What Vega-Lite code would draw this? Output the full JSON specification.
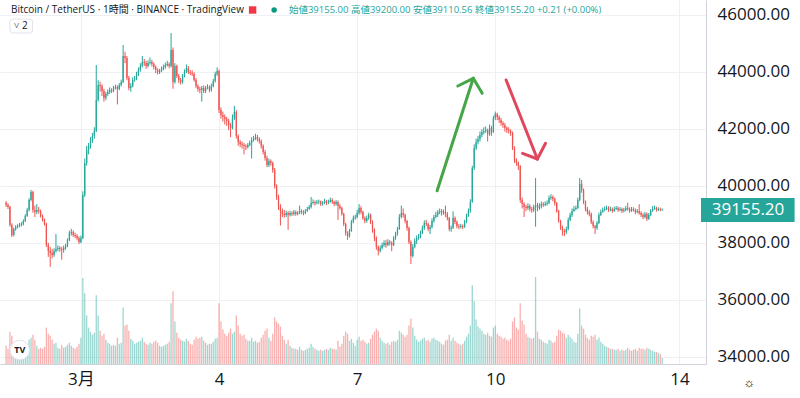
{
"$schema":"https://vega.github.io/schema/vega-lite/v6.json",
"width":706,"height":364,
"autosize":{"type":"none"},
"padding":{"left":0,"top":0,"right":94,"bottom":34},
"background":"#ffffff",
"config":{"view":{"stroke":null},"font":"Open Sans, Noto Sans CJK JP"},
"datasets":{
"candles":[
{"t":"2022-02-27T09:00","o":39400,"h":39460,"l":39250,"c":39321,"v":1800},
{"t":"2022-02-27T10:00","o":39321,"h":39380,"l":39180,"c":39251,"v":1500},
{"t":"2022-02-27T11:00","o":39251,"h":39290,"l":38560,"c":38620,"v":3200},
{"t":"2022-02-27T12:00","o":38620,"h":38680,"l":38200,"c":38268,"v":2800},
{"t":"2022-02-27T13:00","o":38268,"h":38530,"l":38220,"c":38479,"v":1900},
{"t":"2022-02-27T14:00","o":38479,"h":38610,"l":38420,"c":38549,"v":1400},
{"t":"2022-02-27T15:00","o":38549,"h":38650,"l":38500,"c":38584,"v":1300},
{"t":"2022-02-27T16:00","o":38584,"h":38690,"l":38540,"c":38620,"v":1200},
{"t":"2022-02-27T17:00","o":38620,"h":38720,"l":38570,"c":38655,"v":1300},
{"t":"2022-02-27T18:00","o":38655,"h":38820,"l":38600,"c":38760,"v":1500},
{"t":"2022-02-27T19:00","o":38760,"h":39000,"l":38720,"c":38935,"v":1700},
{"t":"2022-02-27T20:00","o":38935,"h":39220,"l":38900,"c":39146,"v":2000},
{"t":"2022-02-27T21:00","o":39146,"h":39560,"l":39100,"c":39497,"v":2400},
{"t":"2022-02-27T22:00","o":39497,"h":39850,"l":39450,"c":39778,"v":2600},
{"t":"2022-02-27T23:00","o":39778,"h":39820,"l":39050,"c":39146,"v":2900},
{"t":"2022-02-28T00:00","o":39146,"h":39300,"l":38900,"c":39076,"v":2400},
{"t":"2022-02-28T01:00","o":39076,"h":39350,"l":39000,"c":39146,"v":1800},
{"t":"2022-02-28T02:00","o":39146,"h":39250,"l":39020,"c":39111,"v":1500},
{"t":"2022-02-28T03:00","o":39111,"h":39160,"l":38880,"c":38935,"v":1600},
{"t":"2022-02-28T04:00","o":38935,"h":38990,"l":38740,"c":38795,"v":1500},
{"t":"2022-02-28T05:00","o":38795,"h":38850,"l":38600,"c":38655,"v":1700},
{"t":"2022-02-28T06:00","o":38655,"h":38700,"l":37850,"c":37918,"v":3600},
{"t":"2022-02-28T07:00","o":37918,"h":37990,"l":37500,"c":37707,"v":3000},
{"t":"2022-02-28T08:00","o":37707,"h":37850,"l":37150,"c":37637,"v":2800},
{"t":"2022-02-28T09:00","o":37637,"h":37780,"l":37450,"c":37567,"v":2400},
{"t":"2022-02-28T10:00","o":37567,"h":37800,"l":37500,"c":37707,"v":2000},
{"t":"2022-02-28T11:00","o":37707,"h":38300,"l":37650,"c":37777,"v":2100},
{"t":"2022-02-28T12:00","o":37777,"h":37900,"l":37700,"c":37812,"v":1600},
{"t":"2022-02-28T13:00","o":37812,"h":37880,"l":37680,"c":37777,"v":1500},
{"t":"2022-02-28T14:00","o":37777,"h":37850,"l":37400,"c":37742,"v":1900},
{"t":"2022-02-28T15:00","o":37742,"h":37900,"l":37650,"c":37812,"v":1600},
{"t":"2022-02-28T16:00","o":37812,"h":37960,"l":37750,"c":37882,"v":1700},
{"t":"2022-02-28T17:00","o":37882,"h":38150,"l":37840,"c":38093,"v":1900},
{"t":"2022-02-28T18:00","o":38093,"h":38420,"l":38050,"c":38338,"v":2100},
{"t":"2022-02-28T19:00","o":38338,"h":38480,"l":38250,"c":38374,"v":1800},
{"t":"2022-02-28T20:00","o":38374,"h":38430,"l":38200,"c":38268,"v":1600},
{"t":"2022-02-28T21:00","o":38268,"h":38350,"l":38150,"c":38233,"v":1500},
{"t":"2022-02-28T22:00","o":38233,"h":38300,"l":38080,"c":38163,"v":1700},
{"t":"2022-02-28T23:00","o":38163,"h":38220,"l":37950,"c":38023,"v":2000},
{"t":"2022-03-01T00:00","o":38023,"h":38250,"l":37980,"c":38150,"v":2600},
{"t":"2022-03-01T01:00","o":38150,"h":39800,"l":38120,"c":39672,"v":8500},
{"t":"2022-03-01T02:00","o":39672,"h":40950,"l":39600,"c":40796,"v":7000},
{"t":"2022-03-01T03:00","o":40796,"h":41400,"l":40700,"c":41252,"v":4800},
{"t":"2022-03-01T04:00","o":41252,"h":41500,"l":41100,"c":41392,"v":3600},
{"t":"2022-03-01T05:00","o":41392,"h":41700,"l":41300,"c":41568,"v":3200},
{"t":"2022-03-01T06:00","o":41568,"h":41850,"l":41500,"c":41743,"v":2900},
{"t":"2022-03-01T07:00","o":41743,"h":42050,"l":41650,"c":41919,"v":3100},
{"t":"2022-03-01T08:00","o":41919,"h":44236,"l":41880,"c":43007,"v":6800},
{"t":"2022-03-01T09:00","o":43007,"h":43700,"l":42950,"c":43533,"v":4800},
{"t":"2022-03-01T10:00","o":43533,"h":43650,"l":43300,"c":43498,"v":3300},
{"t":"2022-03-01T11:00","o":43498,"h":43560,"l":43150,"c":43323,"v":2800},
{"t":"2022-03-01T12:00","o":43323,"h":43400,"l":42950,"c":43077,"v":3000},
{"t":"2022-03-01T13:00","o":43077,"h":43300,"l":43000,"c":43218,"v":2400},
{"t":"2022-03-01T14:00","o":43218,"h":43380,"l":43150,"c":43288,"v":2100},
{"t":"2022-03-01T15:00","o":43288,"h":43450,"l":43220,"c":43358,"v":2000},
{"t":"2022-03-01T16:00","o":43358,"h":43420,"l":43250,"c":43323,"v":1800},
{"t":"2022-03-01T17:00","o":43323,"h":43500,"l":43280,"c":43428,"v":1900},
{"t":"2022-03-01T18:00","o":43428,"h":43550,"l":43380,"c":43463,"v":1800},
{"t":"2022-03-01T19:00","o":43463,"h":43520,"l":42850,"c":43393,"v":2600},
{"t":"2022-03-01T20:00","o":43393,"h":43600,"l":43350,"c":43533,"v":2000},
{"t":"2022-03-01T21:00","o":43533,"h":43720,"l":43480,"c":43639,"v":2100},
{"t":"2022-03-01T22:00","o":43639,"h":44938,"l":43600,"c":44551,"v":5600},
{"t":"2022-03-01T23:00","o":44551,"h":44700,"l":44300,"c":44481,"v":3800},
{"t":"2022-03-02T00:00","o":44481,"h":44550,"l":43700,"c":43779,"v":3900},
{"t":"2022-03-02T01:00","o":43779,"h":43850,"l":43350,"c":43428,"v":3300},
{"t":"2022-03-02T02:00","o":43428,"h":43600,"l":43300,"c":43498,"v":2500},
{"t":"2022-03-02T03:00","o":43498,"h":43800,"l":43450,"c":43709,"v":2300},
{"t":"2022-03-02T04:00","o":43709,"h":43850,"l":43650,"c":43744,"v":2000},
{"t":"2022-03-02T05:00","o":43744,"h":44000,"l":43700,"c":43919,"v":2100},
{"t":"2022-03-02T06:00","o":43919,"h":44150,"l":43850,"c":44060,"v":2200},
{"t":"2022-03-02T07:00","o":44060,"h":44300,"l":44000,"c":44200,"v":2300},
{"t":"2022-03-02T08:00","o":44200,"h":44550,"l":44150,"c":44341,"v":2600},
{"t":"2022-03-02T09:00","o":44341,"h":44450,"l":44200,"c":44306,"v":2200},
{"t":"2022-03-02T10:00","o":44306,"h":44380,"l":44100,"c":44200,"v":2000},
{"t":"2022-03-02T11:00","o":44200,"h":44400,"l":44150,"c":44306,"v":1900},
{"t":"2022-03-02T12:00","o":44306,"h":44500,"l":44250,"c":44341,"v":2100},
{"t":"2022-03-02T13:00","o":44341,"h":44420,"l":44180,"c":44271,"v":2000},
{"t":"2022-03-02T14:00","o":44271,"h":44330,"l":44080,"c":44165,"v":2200},
{"t":"2022-03-02T15:00","o":44165,"h":44220,"l":43950,"c":44060,"v":2300},
{"t":"2022-03-02T16:00","o":44060,"h":44120,"l":43900,"c":43990,"v":2100},
{"t":"2022-03-02T17:00","o":43990,"h":44100,"l":43920,"c":44025,"v":1800},
{"t":"2022-03-02T18:00","o":44025,"h":44180,"l":43980,"c":44095,"v":1700},
{"t":"2022-03-02T19:00","o":44095,"h":44250,"l":44050,"c":44165,"v":1800},
{"t":"2022-03-02T20:00","o":44165,"h":44320,"l":44100,"c":44236,"v":1900},
{"t":"2022-03-02T21:00","o":44236,"h":44380,"l":44180,"c":44271,"v":2000},
{"t":"2022-03-02T22:00","o":44271,"h":44330,"l":44120,"c":44200,"v":2200},
{"t":"2022-03-02T23:00","o":44200,"h":45359,"l":44150,"c":44762,"v":6000},
{"t":"2022-03-03T00:00","o":44762,"h":44850,"l":43400,"c":43639,"v":7200},
{"t":"2022-03-03T01:00","o":43639,"h":44300,"l":43580,"c":44200,"v":4200},
{"t":"2022-03-03T02:00","o":44200,"h":44250,"l":43780,"c":43849,"v":3100},
{"t":"2022-03-03T03:00","o":43849,"h":43920,"l":43600,"c":43709,"v":2600},
{"t":"2022-03-03T04:00","o":43709,"h":43780,"l":43550,"c":43639,"v":2400},
{"t":"2022-03-03T05:00","o":43639,"h":43920,"l":43580,"c":43849,"v":2300},
{"t":"2022-03-03T06:00","o":43849,"h":44080,"l":43800,"c":43990,"v":2200},
{"t":"2022-03-03T07:00","o":43990,"h":44250,"l":43950,"c":44130,"v":2500},
{"t":"2022-03-03T08:00","o":44130,"h":44200,"l":43920,"c":43990,"v":2300},
{"t":"2022-03-03T09:00","o":43990,"h":44060,"l":43880,"c":43955,"v":2000},
{"t":"2022-03-03T10:00","o":43955,"h":44050,"l":43850,"c":43919,"v":1900},
{"t":"2022-03-03T11:00","o":43919,"h":43980,"l":43650,"c":43709,"v":2400},
{"t":"2022-03-03T12:00","o":43709,"h":43780,"l":43420,"c":43498,"v":2700},
{"t":"2022-03-03T13:00","o":43498,"h":43560,"l":43300,"c":43393,"v":2500},
{"t":"2022-03-03T14:00","o":43393,"h":43470,"l":43250,"c":43358,"v":2600},
{"t":"2022-03-03T15:00","o":43358,"h":43500,"l":42950,"c":43428,"v":2700},
{"t":"2022-03-03T16:00","o":43428,"h":43520,"l":43250,"c":43323,"v":2300},
{"t":"2022-03-03T17:00","o":43323,"h":43500,"l":43250,"c":43428,"v":2100},
{"t":"2022-03-03T18:00","o":43428,"h":43560,"l":43380,"c":43463,"v":1900},
{"t":"2022-03-03T19:00","o":43463,"h":43520,"l":43280,"c":43358,"v":2000},
{"t":"2022-03-03T20:00","o":43358,"h":43580,"l":43300,"c":43498,"v":2000},
{"t":"2022-03-03T21:00","o":43498,"h":43750,"l":43450,"c":43674,"v":2200},
{"t":"2022-03-03T22:00","o":43674,"h":44000,"l":43620,"c":43919,"v":2500},
{"t":"2022-03-03T23:00","o":43919,"h":44150,"l":43850,"c":44025,"v":2600},
{"t":"2022-03-04T00:00","o":44025,"h":44080,"l":42550,"c":42656,"v":6000},
{"t":"2022-03-04T01:00","o":42656,"h":42750,"l":42350,"c":42481,"v":4200},
{"t":"2022-03-04T02:00","o":42481,"h":42600,"l":42250,"c":42410,"v":3400},
{"t":"2022-03-04T03:00","o":42410,"h":42500,"l":42150,"c":42340,"v":3000},
{"t":"2022-03-04T04:00","o":42340,"h":42420,"l":42100,"c":42270,"v":2800},
{"t":"2022-03-04T05:00","o":42270,"h":42350,"l":41950,"c":42130,"v":3100},
{"t":"2022-03-04T06:00","o":42130,"h":42200,"l":41700,"c":42024,"v":3500},
{"t":"2022-03-04T07:00","o":42024,"h":42500,"l":41980,"c":42375,"v":3000},
{"t":"2022-03-04T08:00","o":42375,"h":42800,"l":42300,"c":42586,"v":3200},
{"t":"2022-03-04T09:00","o":42586,"h":42650,"l":41650,"c":41743,"v":4800},
{"t":"2022-03-04T10:00","o":41743,"h":41800,"l":41400,"c":41533,"v":3800},
{"t":"2022-03-04T11:00","o":41533,"h":41600,"l":41350,"c":41463,"v":3000},
{"t":"2022-03-04T12:00","o":41463,"h":41550,"l":41300,"c":41428,"v":2800},
{"t":"2022-03-04T13:00","o":41428,"h":41500,"l":41100,"c":41392,"v":2900},
{"t":"2022-03-04T14:00","o":41392,"h":41450,"l":41250,"c":41357,"v":2500},
{"t":"2022-03-04T15:00","o":41357,"h":41500,"l":41300,"c":41428,"v":2300},
{"t":"2022-03-04T16:00","o":41428,"h":41580,"l":41380,"c":41498,"v":2300},
{"t":"2022-03-04T17:00","o":41498,"h":41700,"l":40950,"c":41603,"v":2600},
{"t":"2022-03-04T18:00","o":41603,"h":41750,"l":41550,"c":41638,"v":2200},
{"t":"2022-03-04T19:00","o":41638,"h":41820,"l":41600,"c":41708,"v":2300},
{"t":"2022-03-04T20:00","o":41708,"h":41780,"l":41550,"c":41638,"v":2100},
{"t":"2022-03-04T21:00","o":41638,"h":41700,"l":41480,"c":41568,"v":2200},
{"t":"2022-03-04T22:00","o":41568,"h":41620,"l":41300,"c":41392,"v":2600},
{"t":"2022-03-04T23:00","o":41392,"h":41450,"l":41100,"c":41182,"v":2900},
{"t":"2022-03-05T00:00","o":41182,"h":41250,"l":40880,"c":40971,"v":3300},
{"t":"2022-03-05T01:00","o":40971,"h":41050,"l":40650,"c":40726,"v":3500},
{"t":"2022-03-05T02:00","o":40726,"h":40950,"l":40650,"c":40866,"v":2600},
{"t":"2022-03-05T03:00","o":40866,"h":40920,"l":40700,"c":40796,"v":2300},
{"t":"2022-03-05T04:00","o":40796,"h":40850,"l":40450,"c":40550,"v":3000},
{"t":"2022-03-05T05:00","o":40550,"h":40620,"l":39900,"c":39988,"v":4600},
{"t":"2022-03-05T06:00","o":39988,"h":40050,"l":39500,"c":39602,"v":4200},
{"t":"2022-03-05T07:00","o":39602,"h":39680,"l":39150,"c":39286,"v":4000},
{"t":"2022-03-05T08:00","o":39286,"h":39350,"l":38600,"c":39111,"v":3700},
{"t":"2022-03-05T09:00","o":39111,"h":39200,"l":38900,"c":39006,"v":2800},
{"t":"2022-03-05T10:00","o":39006,"h":39150,"l":38880,"c":38971,"v":2400},
{"t":"2022-03-05T11:00","o":38971,"h":39120,"l":38900,"c":39041,"v":2000},
{"t":"2022-03-05T12:00","o":39041,"h":39100,"l":38450,"c":38971,"v":2400},
{"t":"2022-03-05T13:00","o":38971,"h":39120,"l":38920,"c":39041,"v":1800},
{"t":"2022-03-05T14:00","o":39041,"h":39100,"l":38930,"c":39006,"v":1600},
{"t":"2022-03-05T15:00","o":39006,"h":39150,"l":38950,"c":39076,"v":1500},
{"t":"2022-03-05T16:00","o":39076,"h":39130,"l":38940,"c":39006,"v":1500},
{"t":"2022-03-05T17:00","o":39006,"h":39110,"l":38960,"c":39041,"v":1400},
{"t":"2022-03-05T18:00","o":39041,"h":39300,"l":39000,"c":39111,"v":1700},
{"t":"2022-03-05T19:00","o":39111,"h":39170,"l":39000,"c":39076,"v":1400},
{"t":"2022-03-05T20:00","o":39076,"h":39140,"l":38960,"c":39041,"v":1300},
{"t":"2022-03-05T21:00","o":39041,"h":39180,"l":39000,"c":39111,"v":1400},
{"t":"2022-03-05T22:00","o":39111,"h":39260,"l":39080,"c":39181,"v":1500},
{"t":"2022-03-05T23:00","o":39181,"h":39320,"l":39150,"c":39251,"v":1600},
{"t":"2022-03-06T00:00","o":39251,"h":39600,"l":39200,"c":39392,"v":2000},
{"t":"2022-03-06T01:00","o":39392,"h":39520,"l":39340,"c":39427,"v":1700},
{"t":"2022-03-06T02:00","o":39427,"h":39480,"l":39300,"c":39392,"v":1500},
{"t":"2022-03-06T03:00","o":39392,"h":39500,"l":39340,"c":39427,"v":1400},
{"t":"2022-03-06T04:00","o":39427,"h":39510,"l":39350,"c":39440,"v":1300},
{"t":"2022-03-06T05:00","o":39440,"h":39480,"l":39290,"c":39357,"v":1400},
{"t":"2022-03-06T06:00","o":39357,"h":39460,"l":39300,"c":39392,"v":1300},
{"t":"2022-03-06T07:00","o":39392,"h":39540,"l":39350,"c":39462,"v":1400},
{"t":"2022-03-06T08:00","o":39462,"h":39500,"l":39320,"c":39392,"v":1500},
{"t":"2022-03-06T09:00","o":39392,"h":39510,"l":39350,"c":39427,"v":1400},
{"t":"2022-03-06T10:00","o":39427,"h":39580,"l":39400,"c":39497,"v":1600},
{"t":"2022-03-06T11:00","o":39497,"h":39560,"l":39360,"c":39427,"v":1500},
{"t":"2022-03-06T12:00","o":39427,"h":39470,"l":39280,"c":39357,"v":1500},
{"t":"2022-03-06T13:00","o":39357,"h":39500,"l":39300,"c":39427,"v":1400},
{"t":"2022-03-06T14:00","o":39427,"h":39480,"l":38800,"c":39286,"v":2300},
{"t":"2022-03-06T15:00","o":39286,"h":39350,"l":39150,"c":39216,"v":1700},
{"t":"2022-03-06T16:00","o":39216,"h":39260,"l":38950,"c":39006,"v":2000},
{"t":"2022-03-06T17:00","o":39006,"h":39050,"l":38580,"c":38655,"v":2800},
{"t":"2022-03-06T18:00","o":38655,"h":38700,"l":38250,"c":38338,"v":3200},
{"t":"2022-03-06T19:00","o":38338,"h":38400,"l":38100,"c":38233,"v":3000},
{"t":"2022-03-06T20:00","o":38233,"h":38480,"l":38180,"c":38409,"v":2300},
{"t":"2022-03-06T21:00","o":38409,"h":38800,"l":38380,"c":38725,"v":2500},
{"t":"2022-03-06T22:00","o":38725,"h":38950,"l":38680,"c":38865,"v":2100},
{"t":"2022-03-06T23:00","o":38865,"h":38980,"l":38800,"c":38900,"v":1800},
{"t":"2022-03-07T00:00","o":38900,"h":39150,"l":38850,"c":39041,"v":2400},
{"t":"2022-03-07T01:00","o":39041,"h":39350,"l":38980,"c":39216,"v":2700},
{"t":"2022-03-07T02:00","o":39216,"h":39280,"l":39000,"c":39076,"v":2300},
{"t":"2022-03-07T03:00","o":39076,"h":39120,"l":38800,"c":38865,"v":2400},
{"t":"2022-03-07T04:00","o":38865,"h":38920,"l":38680,"c":38760,"v":2200},
{"t":"2022-03-07T05:00","o":38760,"h":38950,"l":38700,"c":38865,"v":2000},
{"t":"2022-03-07T06:00","o":38865,"h":39050,"l":38800,"c":38971,"v":2100},
{"t":"2022-03-07T07:00","o":38971,"h":39020,"l":38650,"c":38725,"v":2500},
{"t":"2022-03-07T08:00","o":38725,"h":38780,"l":38350,"c":38444,"v":2900},
{"t":"2022-03-07T09:00","o":38444,"h":38500,"l":38050,"c":38163,"v":3200},
{"t":"2022-03-07T10:00","o":38163,"h":38220,"l":37750,"c":37847,"v":3500},
{"t":"2022-03-07T11:00","o":37847,"h":37900,"l":37550,"c":37707,"v":3300},
{"t":"2022-03-07T12:00","o":37707,"h":37900,"l":37650,"c":37812,"v":2600},
{"t":"2022-03-07T13:00","o":37812,"h":38000,"l":37760,"c":37918,"v":2300},
{"t":"2022-03-07T14:00","o":37918,"h":38080,"l":37850,"c":37988,"v":2100},
{"t":"2022-03-07T15:00","o":37988,"h":38100,"l":37820,"c":37918,"v":2000},
{"t":"2022-03-07T16:00","o":37918,"h":38120,"l":37870,"c":38023,"v":2100},
{"t":"2022-03-07T17:00","o":38023,"h":38090,"l":37900,"c":37988,"v":1900},
{"t":"2022-03-07T18:00","o":37988,"h":38050,"l":37700,"c":37918,"v":2200},
{"t":"2022-03-07T19:00","o":37918,"h":38230,"l":37880,"c":38163,"v":2300},
{"t":"2022-03-07T20:00","o":38163,"h":38380,"l":38100,"c":38303,"v":2200},
{"t":"2022-03-07T21:00","o":38303,"h":38550,"l":38250,"c":38479,"v":2400},
{"t":"2022-03-07T22:00","o":38479,"h":39000,"l":38450,"c":38900,"v":3300},
{"t":"2022-03-07T23:00","o":38900,"h":39300,"l":38850,"c":39041,"v":3100},
{"t":"2022-03-08T00:00","o":39041,"h":39200,"l":38880,"c":38971,"v":2900},
{"t":"2022-03-08T01:00","o":38971,"h":39020,"l":38680,"c":38760,"v":2700},
{"t":"2022-03-08T02:00","o":38760,"h":38800,"l":38420,"c":38514,"v":2900},
{"t":"2022-03-08T03:00","o":38514,"h":38560,"l":37950,"c":38023,"v":3800},
{"t":"2022-03-08T04:00","o":38023,"h":38080,"l":37250,"c":37531,"v":4500},
{"t":"2022-03-08T05:00","o":37531,"h":37950,"l":37480,"c":37847,"v":3600},
{"t":"2022-03-08T06:00","o":37847,"h":38150,"l":37800,"c":38058,"v":2800},
{"t":"2022-03-08T07:00","o":38058,"h":38250,"l":37950,"c":38163,"v":2400},
{"t":"2022-03-08T08:00","o":38163,"h":38300,"l":38100,"c":38198,"v":2200},
{"t":"2022-03-08T09:00","o":38198,"h":38420,"l":38150,"c":38338,"v":2300},
{"t":"2022-03-08T10:00","o":38338,"h":38600,"l":38300,"c":38514,"v":2500},
{"t":"2022-03-08T11:00","o":38514,"h":38780,"l":38450,"c":38690,"v":2600},
{"t":"2022-03-08T12:00","o":38690,"h":38800,"l":38580,"c":38655,"v":2300},
{"t":"2022-03-08T13:00","o":38655,"h":38700,"l":38400,"c":38479,"v":2400},
{"t":"2022-03-08T14:00","o":38479,"h":38620,"l":38300,"c":38549,"v":2200},
{"t":"2022-03-08T15:00","o":38549,"h":38850,"l":38500,"c":38760,"v":2500},
{"t":"2022-03-08T16:00","o":38760,"h":38980,"l":38700,"c":38900,"v":2600},
{"t":"2022-03-08T17:00","o":38900,"h":39080,"l":38850,"c":38971,"v":2400},
{"t":"2022-03-08T18:00","o":38971,"h":39150,"l":38900,"c":39076,"v":2300},
{"t":"2022-03-08T19:00","o":39076,"h":39200,"l":39000,"c":39111,"v":2200},
{"t":"2022-03-08T20:00","o":39111,"h":39180,"l":38950,"c":39041,"v":2000},
{"t":"2022-03-08T21:00","o":39041,"h":39160,"l":38980,"c":39076,"v":1900},
{"t":"2022-03-08T22:00","o":39076,"h":39300,"l":38900,"c":39006,"v":2300},
{"t":"2022-03-08T23:00","o":39006,"h":39080,"l":38780,"c":38865,"v":2400},
{"t":"2022-03-09T00:00","o":38865,"h":38900,"l":38400,"c":38479,"v":2900},
{"t":"2022-03-09T01:00","o":38479,"h":38600,"l":38380,"c":38520,"v":2300},
{"t":"2022-03-09T02:00","o":38520,"h":39100,"l":38480,"c":38865,"v":2600},
{"t":"2022-03-09T03:00","o":38865,"h":38920,"l":38650,"c":38725,"v":2300},
{"t":"2022-03-09T04:00","o":38725,"h":38780,"l":38500,"c":38584,"v":2100},
{"t":"2022-03-09T05:00","o":38584,"h":38650,"l":38470,"c":38549,"v":2000},
{"t":"2022-03-09T06:00","o":38549,"h":38660,"l":38500,"c":38584,"v":1900},
{"t":"2022-03-09T07:00","o":38584,"h":38640,"l":38480,"c":38549,"v":2000},
{"t":"2022-03-09T08:00","o":38549,"h":38800,"l":38520,"c":38725,"v":2300},
{"t":"2022-03-09T09:00","o":38725,"h":39020,"l":38680,"c":38935,"v":2700},
{"t":"2022-03-09T10:00","o":38935,"h":39200,"l":38900,"c":39111,"v":3000},
{"t":"2022-03-09T11:00","o":39111,"h":39520,"l":39050,"c":39427,"v":3800},
{"t":"2022-03-09T12:00","o":39427,"h":40700,"l":39400,"c":40620,"v":7800},
{"t":"2022-03-09T13:00","o":40620,"h":41450,"l":40550,"c":41322,"v":6200},
{"t":"2022-03-09T14:00","o":41322,"h":41650,"l":41250,"c":41533,"v":4400},
{"t":"2022-03-09T15:00","o":41533,"h":41750,"l":41450,"c":41638,"v":3700},
{"t":"2022-03-09T16:00","o":41638,"h":41900,"l":41550,"c":41778,"v":3500},
{"t":"2022-03-09T17:00","o":41778,"h":41980,"l":41700,"c":41884,"v":3300},
{"t":"2022-03-09T18:00","o":41884,"h":42050,"l":41800,"c":41919,"v":3000},
{"t":"2022-03-09T19:00","o":41919,"h":42080,"l":41850,"c":41954,"v":2900},
{"t":"2022-03-09T20:00","o":41954,"h":42000,"l":41550,"c":41813,"v":3100},
{"t":"2022-03-09T21:00","o":41813,"h":42150,"l":41750,"c":42024,"v":2800},
{"t":"2022-03-09T22:00","o":42024,"h":42100,"l":41750,"c":41884,"v":2700},
{"t":"2022-03-09T23:00","o":41884,"h":42450,"l":41850,"c":42375,"v":3600},
{"t":"2022-03-10T00:00","o":42375,"h":42600,"l":42300,"c":42516,"v":3800},
{"t":"2022-03-10T01:00","o":42516,"h":42560,"l":42300,"c":42410,"v":3000},
{"t":"2022-03-10T02:00","o":42410,"h":42470,"l":42200,"c":42305,"v":2800},
{"t":"2022-03-10T03:00","o":42305,"h":42380,"l":42100,"c":42200,"v":2700},
{"t":"2022-03-10T04:00","o":42200,"h":42260,"l":42030,"c":42130,"v":2500},
{"t":"2022-03-10T05:00","o":42130,"h":42200,"l":41900,"c":42024,"v":2600},
{"t":"2022-03-10T06:00","o":42024,"h":42080,"l":41850,"c":41954,"v":2400},
{"t":"2022-03-10T07:00","o":41954,"h":42050,"l":41830,"c":41919,"v":2300},
{"t":"2022-03-10T08:00","o":41919,"h":41980,"l":41750,"c":41849,"v":2500},
{"t":"2022-03-10T09:00","o":41849,"h":41900,"l":41250,"c":41322,"v":4200},
{"t":"2022-03-10T10:00","o":41322,"h":41380,"l":40800,"c":40901,"v":4600},
{"t":"2022-03-10T11:00","o":40901,"h":40960,"l":40700,"c":40796,"v":3600},
{"t":"2022-03-10T12:00","o":40796,"h":40850,"l":40550,"c":40690,"v":3400},
{"t":"2022-03-10T13:00","o":40690,"h":40720,"l":39400,"c":39497,"v":6000},
{"t":"2022-03-10T14:00","o":39497,"h":39580,"l":39200,"c":39357,"v":4300},
{"t":"2022-03-10T15:00","o":39357,"h":39420,"l":38900,"c":39251,"v":3900},
{"t":"2022-03-10T16:00","o":39251,"h":39330,"l":39100,"c":39216,"v":3000},
{"t":"2022-03-10T17:00","o":39216,"h":39380,"l":39150,"c":39286,"v":2700},
{"t":"2022-03-10T18:00","o":39286,"h":39350,"l":39100,"c":39181,"v":2600},
{"t":"2022-03-10T19:00","o":39181,"h":39250,"l":39050,"c":39146,"v":2500},
{"t":"2022-03-10T20:00","o":39146,"h":39330,"l":39080,"c":39251,"v":2600},
{"t":"2022-03-10T21:00","o":39251,"h":40270,"l":38560,"c":39321,"v":8600},
{"t":"2022-03-10T22:00","o":39321,"h":39400,"l":39100,"c":39216,"v":3200},
{"t":"2022-03-10T23:00","o":39216,"h":39380,"l":39150,"c":39286,"v":2500},
{"t":"2022-03-11T00:00","o":39286,"h":39440,"l":39200,"c":39357,"v":2400},
{"t":"2022-03-11T01:00","o":39357,"h":39420,"l":39250,"c":39321,"v":2200},
{"t":"2022-03-11T02:00","o":39321,"h":39450,"l":39280,"c":39357,"v":2100},
{"t":"2022-03-11T03:00","o":39357,"h":39480,"l":39300,"c":39392,"v":2000},
{"t":"2022-03-11T04:00","o":39392,"h":39650,"l":39350,"c":39567,"v":2400},
{"t":"2022-03-11T05:00","o":39567,"h":39700,"l":39500,"c":39602,"v":2300},
{"t":"2022-03-11T06:00","o":39602,"h":39660,"l":39450,"c":39532,"v":2100},
{"t":"2022-03-11T07:00","o":39532,"h":39580,"l":39300,"c":39392,"v":2200},
{"t":"2022-03-11T08:00","o":39392,"h":39430,"l":39050,"c":39111,"v":2800},
{"t":"2022-03-11T09:00","o":39111,"h":39150,"l":38700,"c":38760,"v":3400},
{"t":"2022-03-11T10:00","o":38760,"h":38800,"l":38450,"c":38549,"v":3300},
{"t":"2022-03-11T11:00","o":38549,"h":38600,"l":38250,"c":38409,"v":3100},
{"t":"2022-03-11T12:00","o":38409,"h":38480,"l":38230,"c":38374,"v":3000},
{"t":"2022-03-11T13:00","o":38374,"h":38560,"l":38300,"c":38479,"v":2600},
{"t":"2022-03-11T14:00","o":38479,"h":38880,"l":38430,"c":38795,"v":2900},
{"t":"2022-03-11T15:00","o":38795,"h":39050,"l":38750,"c":38971,"v":2700},
{"t":"2022-03-11T16:00","o":38971,"h":39200,"l":38900,"c":39111,"v":2500},
{"t":"2022-03-11T17:00","o":39111,"h":39280,"l":39080,"c":39181,"v":2200},
{"t":"2022-03-11T18:00","o":39181,"h":39300,"l":39130,"c":39216,"v":2100},
{"t":"2022-03-11T19:00","o":39216,"h":39580,"l":39180,"c":39497,"v":3000},
{"t":"2022-03-11T20:00","o":39497,"h":40269,"l":39450,"c":40058,"v":5500},
{"t":"2022-03-11T21:00","o":40058,"h":40200,"l":39750,"c":39848,"v":3800},
{"t":"2022-03-11T22:00","o":39848,"h":39900,"l":39350,"c":39427,"v":3500},
{"t":"2022-03-11T23:00","o":39427,"h":39480,"l":39100,"c":39181,"v":2900},
{"t":"2022-03-12T00:00","o":39181,"h":39250,"l":38980,"c":39076,"v":2600},
{"t":"2022-03-12T01:00","o":39076,"h":39140,"l":38920,"c":39006,"v":2400},
{"t":"2022-03-12T02:00","o":39006,"h":39060,"l":38650,"c":38725,"v":2800},
{"t":"2022-03-12T03:00","o":38725,"h":38780,"l":38500,"c":38584,"v":2700},
{"t":"2022-03-12T04:00","o":38584,"h":38620,"l":38300,"c":38514,"v":2900},
{"t":"2022-03-12T05:00","o":38514,"h":38760,"l":38450,"c":38690,"v":2400},
{"t":"2022-03-12T06:00","o":38690,"h":39050,"l":38650,"c":38971,"v":2600},
{"t":"2022-03-12T07:00","o":38971,"h":39160,"l":38930,"c":39076,"v":2200},
{"t":"2022-03-12T08:00","o":39076,"h":39230,"l":39050,"c":39146,"v":2000},
{"t":"2022-03-12T09:00","o":39146,"h":39270,"l":39100,"c":39181,"v":1800},
{"t":"2022-03-12T10:00","o":39181,"h":39300,"l":39140,"c":39216,"v":1700},
{"t":"2022-03-12T11:00","o":39216,"h":39280,"l":39080,"c":39146,"v":1600},
{"t":"2022-03-12T12:00","o":39146,"h":39260,"l":39100,"c":39181,"v":1500},
{"t":"2022-03-12T13:00","o":39181,"h":39230,"l":39050,"c":39111,"v":1500},
{"t":"2022-03-12T14:00","o":39111,"h":39260,"l":39080,"c":39181,"v":1400},
{"t":"2022-03-12T15:00","o":39181,"h":39290,"l":39150,"c":39216,"v":1400},
{"t":"2022-03-12T16:00","o":39216,"h":39270,"l":39080,"c":39146,"v":1500},
{"t":"2022-03-12T17:00","o":39146,"h":39250,"l":39100,"c":39181,"v":1300},
{"t":"2022-03-12T18:00","o":39181,"h":39230,"l":39040,"c":39111,"v":1400},
{"t":"2022-03-12T19:00","o":39111,"h":39220,"l":39060,"c":39146,"v":1300},
{"t":"2022-03-12T20:00","o":39146,"h":39290,"l":39100,"c":39216,"v":1400},
{"t":"2022-03-12T21:00","o":39216,"h":39400,"l":39120,"c":39181,"v":1600},
{"t":"2022-03-12T22:00","o":39181,"h":39240,"l":39050,"c":39111,"v":1400},
{"t":"2022-03-12T23:00","o":39111,"h":39250,"l":39080,"c":39181,"v":1300},
{"t":"2022-03-13T00:00","o":39181,"h":39240,"l":39090,"c":39146,"v":1400},
{"t":"2022-03-13T01:00","o":39146,"h":39200,"l":39000,"c":39076,"v":1500},
{"t":"2022-03-13T02:00","o":39076,"h":39180,"l":39030,"c":39111,"v":1300},
{"t":"2022-03-13T03:00","o":39111,"h":39350,"l":38980,"c":39041,"v":1600},
{"t":"2022-03-13T04:00","o":39041,"h":39100,"l":38900,"c":38971,"v":1500},
{"t":"2022-03-13T05:00","o":38971,"h":39030,"l":38830,"c":38900,"v":1500},
{"t":"2022-03-13T06:00","o":38900,"h":39080,"l":38850,"c":39006,"v":1400},
{"t":"2022-03-13T07:00","o":39006,"h":39060,"l":38760,"c":38830,"v":1600},
{"t":"2022-03-13T08:00","o":38830,"h":39040,"l":38800,"c":38971,"v":1500},
{"t":"2022-03-13T09:00","o":38971,"h":39180,"l":38930,"c":39111,"v":1400},
{"t":"2022-03-13T10:00","o":39111,"h":39290,"l":39080,"c":39181,"v":1300},
{"t":"2022-03-13T11:00","o":39181,"h":39300,"l":39150,"c":39216,"v":1200},
{"t":"2022-03-13T12:00","o":39216,"h":39260,"l":39090,"c":39146,"v":1200},
{"t":"2022-03-13T13:00","o":39146,"h":39240,"l":39110,"c":39181,"v":1100},
{"t":"2022-03-13T14:00","o":39181,"h":39230,"l":39100,"c":39155,"v":1000},
{"t":"2022-03-13T15:00","o":39155.00,"h":39200.00,"l":39110.56,"c":39155.20,"v":600}
],
"arrows":[
{"t":"2022-03-08T17:40","p":39823,"t2":"2022-03-09T12:31","p2":43769,"dir":"up"},
{"t":"2022-03-09T04:27","p":43498,"t2":"2022-03-09T12:31","p2":43769,"dir":"up"},
{"t":"2022-03-09T17:09","p":43242,"t2":"2022-03-09T12:31","p2":43769,"dir":"up"},
{"t":"2022-03-10T05:38","p":43709,"t2":"2022-03-10T21:56","p2":40936,"dir":"down"},
{"t":"2022-03-10T14:13","p":41136,"t2":"2022-03-10T21:56","p2":40936,"dir":"down"},
{"t":"2022-03-11T02:11","p":41487,"t2":"2022-03-10T21:56","p2":40936,"dir":"down"}
]
},
"encoding":{
"x":{"field":"t","type":"temporal",
"scale":{"domain":[{"year":2022,"month":2,"date":27,"hours":8,"minutes":26},{"year":2022,"month":3,"date":14,"hours":11,"minutes":13}],"nice":false},
"axis":{"title":null,"values":[{"year":2022,"month":3,"date":1},{"year":2022,"month":3,"date":4},{"year":2022,"month":3,"date":7},{"year":2022,"month":3,"date":10},{"year":2022,"month":3,"date":14}],
"labelExpr":"timeFormat(datum.value, '%-d') == '1' ? timeFormat(datum.value, '%-m') + '月' : timeFormat(datum.value, '%-d')",
"labelFontSize":17,"labelColor":"#131722","labelPadding":7,"ticks":false,"domainColor":"#cfd2d8","grid":true,"gridColor":"#eef0f3","labelFlush":false,"labelOverlap":false}}
},
"layer":[
{"data":{"name":"candles"},"mark":{"type":"bar","size":1.3,"opacity":0.45},
"encoding":{"y":{"field":"v","type":"quantitative","scale":{"domain":[0,36000],"nice":false},"axis":null},
"color":{"condition":{"test":"datum.c >= datum.o","value":"#26a69a"},"value":"#ef5350"}}},
{"data":{"name":"candles"},"mark":{"type":"rule","strokeWidth":1},
"encoding":{"y":{"field":"l","type":"quantitative","scale":{"domain":[33740,46517],"nice":false,"zero":false},
"axis":{"orient":"right","title":null,"values":[34000,36000,38000,40000,42000,44000,46000],"labelExpr":"format(datum.value, '.2f')","labelFontSize":17,"labelColor":"#131722","labelPadding":11,"ticks":false,"domainColor":"#cfd2d8","grid":true,"gridColor":"#eef0f3"}},
"y2":{"field":"h"},
"color":{"condition":{"test":"datum.c >= datum.o","value":"#26a69a"},"value":"#ef5350"}}},
{"data":{"name":"candles"},"mark":{"type":"bar","size":1.3},
"encoding":{"y":{"field":"o","type":"quantitative","scale":{"domain":[33740,46517],"nice":false,"zero":false},"axis":null},"y2":{"field":"c"},
"color":{"condition":{"test":"datum.c >= datum.o","value":"#26a69a"},"value":"#ef5350"}}},
{"data":{"name":"arrows"},"mark":{"type":"rule","strokeWidth":3,"strokeCap":"round"},
"encoding":{"y":{"field":"p","type":"quantitative","scale":{"domain":[33740,46517],"nice":false,"zero":false},"axis":null},"x2":{"field":"t2"},"y2":{"field":"p2"},
"color":{"field":"dir","type":"nominal","scale":{"domain":["up","down"],"range":["#46a546","#e0475d"]},"legend":null}}},
{"data":{"values":[{"t":"2022-02-27T11:31","p":46166,"label":"Bitcoin / TetherUS · 1時間 · BINANCE · TradingView"}]},
"mark":{"type":"text","align":"left","baseline":"middle","fontSize":10,"color":"#131722"},
"encoding":{"y":{"field":"p","type":"quantitative","scale":{"domain":[33740,46517],"nice":false,"zero":false},"axis":null},"text":{"field":"label"}}},
{"data":{"values":[{"t":"2022-03-04T17:30","p":46166}]},
"mark":{"type":"point","shape":"square","filled":true,"size":55,"color":"#f23645","opacity":1},
"encoding":{"y":{"field":"p","type":"quantitative","scale":{"domain":[33740,46517],"nice":false,"zero":false},"axis":null}}},
{"data":{"values":[{"t":"2022-03-05T04:43","p":46166}]},
"mark":{"type":"point","shape":"circle","filled":true,"size":30,"color":"#089981","opacity":1},
"encoding":{"y":{"field":"p","type":"quantitative","scale":{"domain":[33740,46517],"nice":false,"zero":false},"axis":null}}},
{"data":{"values":[{"t":"2022-03-05T12:26","p":46166,"label":"始値39155.00 高値39200.00 安値39110.56 終値39155.20 +0.21 (+0.00%)"}]},
"mark":{"type":"text","align":"left","baseline":"middle","fontSize":9.5,"color":"#26a69a"},
"encoding":{"y":{"field":"p","type":"quantitative","scale":{"domain":[33740,46517],"nice":false,"zero":false},"axis":null},"text":{"field":"label"}}},
{"data":{"values":[{"t":"2022-02-27T11:00","p":45850,"t2":"2022-02-27T22:48","p2":45359}]},
"mark":{"type":"rect","fill":"#ffffff","stroke":"#e0e3eb","strokeWidth":1,"cornerRadius":3},
"encoding":{"y":{"field":"p","type":"quantitative","scale":{"domain":[33740,46517],"nice":false,"zero":false},"axis":null},"x2":{"field":"t2"},"y2":{"field":"p2"}}},
{"data":{"values":[{"t":"2022-02-27T13:00","p":45604,"label":"˅ 2"}]},
"mark":{"type":"text","align":"left","baseline":"middle","fontSize":10,"color":"#131722"},
"encoding":{"y":{"field":"p","type":"quantitative","scale":{"domain":[33740,46517],"nice":false,"zero":false},"axis":null},"text":{"field":"label"}}},
{"data":{"values":[{"t":"2022-02-27T16:08","p":34232}]},
"mark":{"type":"point","shape":"circle","filled":true,"size":380,"color":"#ffffff","stroke":"#e0e3eb","strokeWidth":1,"opacity":1},
"encoding":{"y":{"field":"p","type":"quantitative","scale":{"domain":[33740,46517],"nice":false,"zero":false},"axis":null}}},
{"data":{"values":[{"t":"2022-02-27T16:08","p":34232,"label":"TV"}]},
"mark":{"type":"text","align":"center","baseline":"middle","fontSize":9,"fontWeight":"bold","color":"#131722"},
"encoding":{"y":{"field":"p","type":"quantitative","scale":{"domain":[33740,46517],"nice":false,"zero":false},"axis":null},"text":{"field":"label"}}},
{"data":{"values":[{"t":"2022-03-14T11:13","p":39567,"t2":"2022-03-16T12:00","p2":38725}]},
"mark":{"type":"rect","fill":"#26a69a","clip":false},
"encoding":{"y":{"field":"p","type":"quantitative","scale":{"domain":[33740,46517],"nice":false,"zero":false},"axis":null},"x2":{"field":"t2"},"y2":{"field":"p2"}}},
{"data":{"values":[{"t":"2022-03-14T16:50","p":39155.2,"label":"39155.20"}]},
"mark":{"type":"text","align":"left","baseline":"middle","fontSize":17,"color":"#ffffff","clip":false},
"encoding":{"y":{"field":"p","type":"quantitative","scale":{"domain":[33740,46517],"nice":false,"zero":false},"axis":null},"text":{"field":"label"}}},
{"data":{"values":[{"t":"2022-03-15T12:24","p":33073,"label":"☼"}]},
"mark":{"type":"text","align":"center","baseline":"middle","fontSize":13,"color":"#131722","clip":false},
"encoding":{"y":{"field":"p","type":"quantitative","scale":{"domain":[33740,46517],"nice":false,"zero":false},"axis":null},"text":{"field":"label"}}}
],
"resolve":{"scale":{"y":"independent"}}
}
